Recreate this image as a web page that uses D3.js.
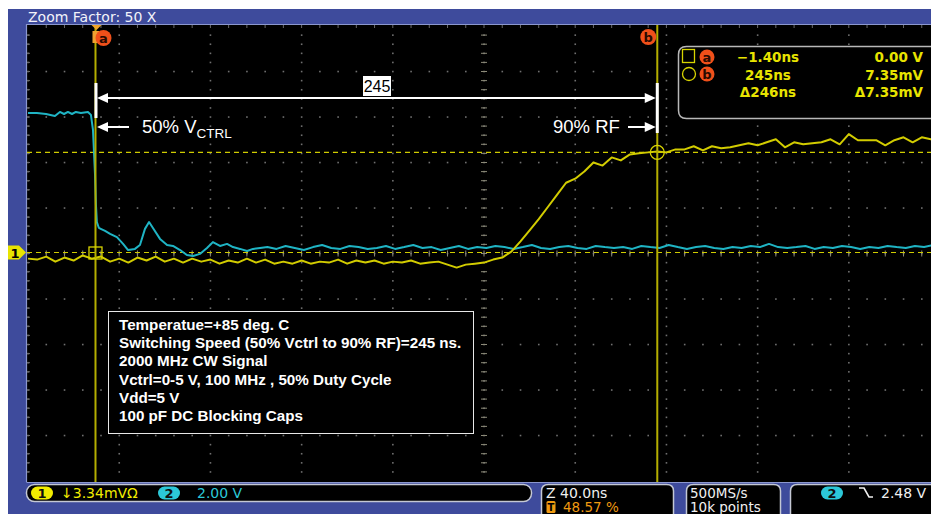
<!DOCTYPE html>
<html>
<head>
<meta charset="utf-8">
<script src="https://cdn.jsdelivr.net/npm/d3@7"></script>
<style>
  html, body { margin: 0; padding: 0; background: #ffffff; overflow: hidden; }
  svg { display: block; }
</style>
</head>
<body>
<svg id="scope" width="931" height="514"></svg>
<script>
// ---------------- acquisition settings ----------------
const headerText = "Zoom Factor: 50 X";
const timePerDiv = 40;        // ns / div
const timeStart = -31;        // ns at the left graticule edge
const ch1PerDiv = 3.34;       // mV / div
const ch2PerDiv = 2.00;       // V / div

// ---------------- cursors ----------------
const cursorNames = ["a", "b"];
const cursorTimes = [-1.40, 245];     // ns
const cursorLevels = [0.00, 7.35];    // mV on ch1
const readTimes = ["\u22121.40ns", "245ns", "\u0394246ns"];
const readLevels = ["0.00 V", "7.35mV", "\u03947.35mV"];

// ---------------- ch1 : detected RF (mV), sampled every 4 ns from timeStart ----------------
const ch1Step = 4;
const ch1mV = [
  -0.45, -0.52, -0.30, -0.67, -0.37, -0.59, -0.22, -0.45, -0.30, -0.67,
  -0.45, -0.74, -0.37, -0.59, -0.30, -0.67, -0.45, -0.74, -0.45, -0.67,
  -0.52, -0.82, -0.59, -0.74, -0.45, -0.74, -0.52, -0.82, -0.67, -0.82,
  -0.59, -0.82, -0.67, -0.74, -0.52, -0.82, -0.59, -0.74, -0.59, -0.82,
  -0.67, -0.74, -0.59, -0.82, -0.74, -0.67, -0.89, -1.11, -0.89, -0.82,
  -0.74, -0.52, -0.37, 0.07, 0.82, 1.63, 2.45, 3.34, 4.23, 5.12,
  5.42, 5.94, 6.61, 6.38, 6.98, 6.76, 7.20, 7.28, 7.35, 7.42,
  7.35, 7.57, 7.57, 7.80, 7.50, 7.80, 7.65, 7.72, 7.87, 8.02,
  7.87, 8.09, 8.31, 7.72, 8.09, 7.94, 8.02, 8.09, 8.31, 7.94,
  8.69, 8.24, 8.24, 8.24, 7.87, 8.24, 8.46, 8.09, 8.46, 8.31,
  8.31
];

// ---------------- ch2 : control voltage (V) ----------------
const ch2Times = [
  -31, -27.1, -23.1, -19.2, -17.0, -15.2, -13.5, -11.7, -10.0, -7.8,
  -4.7, -3.4, -2.5, -2.1, -1.6, -1.2, -0.8, 0.1, 0.9, 2.8,
  5.0, 8.0, 10.7, 12.9, 15.9, 18.1, 20.3, 22.1, 23.8, 26.9,
  30.0, 32.6, 35.7, 38.7, 41.4, 44.4, 47.5, 50.1, 53.2, 56.3,
  58.9, 62.0, 65.1, 67.7, 70.8,
  74, 78, 82, 86, 90, 94, 98, 102, 106, 110,
  114, 118, 122, 126, 130, 134, 138, 142, 146, 150,
  154, 158, 162, 166, 170, 174, 178, 182, 186, 190,
  194, 198, 202, 206, 210, 214, 218, 222, 226, 230,
  234, 238, 242, 246, 250, 254, 258, 262, 266, 270,
  274, 278, 282, 286, 290, 294, 298, 302, 306, 310,
  314, 318, 322, 326, 330, 334, 338, 342, 346, 350,
  354, 358, 362, 366, 370
];
const ch2Volts = [
  5.93, 5.93, 5.89, 5.80, 5.98, 5.89, 5.98, 5.89, 5.98, 5.93,
  5.98, 5.85, 5.19, 4.31, 3.21, 1.89, 1.14, 0.88, 0.84, 0.75,
  0.62, 0.48, 0.18, -0.09, -0.04, 0.13, 0.84, 1.14, 0.88, 0.40,
  0.13, 0.09, -0.09, -0.31, -0.35, -0.26, 0.00, 0.26, 0.09, 0.18,
  0.04, -0.04, -0.13, -0.04, 0.00,
  0.04, -0.04, 0.09, 0.00, -0.09, 0.04, 0.13, 0.00, -0.04, 0.09,
  0.04, -0.04, 0.00, 0.09, -0.04, 0.04, 0.13, 0.00, 0.04, -0.09,
  0.00, 0.09, -0.04, 0.04, 0.00, 0.09, 0.04, -0.04, 0.04, 0.13,
  0.00, -0.04, 0.04, 0.09, 0.00, -0.04, 0.09, 0.04, 0.00, 0.04,
  -0.04, 0.09, 0.04, 0.00, 0.13, 0.04, -0.04, 0.04, 0.09, 0.00,
  -0.04, 0.04, 0.00, 0.09, 0.04, 0.18, 0.04, 0.00, 0.04, 0.09,
  -0.04, 0.04, 0.00, 0.09, 0.04, -0.04, 0.04, 0.00, 0.09, 0.04,
  0.00, 0.09, 0.04, 0.13, 0.04
];

// ---------------- notes ----------------
const infoLines = [
  "Temperatue=+85 deg. C",
  "Switching Speed (50% Vctrl to 90% RF)=245 ns.",
  "2000 MHz CW Signal",
  "Vctrl=0-5 V, 100 MHz , 50% Duty Cycle",
  "Vdd=5 V",
  "100 pF DC Blocking Caps"
];
const spanLabel = "245";

// ---------------- status bar ----------------
const ch1Label = "\u21933.34mV\u03A9";
const ch2Label = "2.00 V";
const zoomLabel = "Z 40.0ns";
const trigPosLabel = "48.57 %";
const rateLabel = "500MS/s";
const pointsLabel = "10k points";
const trigLevelLabel = "2.48 V";

// ======================================================
const W = 931, H = 514;
const svg = d3.select("#scope");
const SCOPE_FONT = "'DejaVu Sans', Verdana, sans-serif";
const NOTE_FONT = "'Liberation Sans', Arial, sans-serif";

const BLUE = "#3e4b9c";
const YEL = "#d2cc00";
const CYAN = "#1fb4c4";

// screen area
const plot = { left: 27, right: W, top: 25, bottom: 482 };

// graticule: 10 x 10 divisions
const gx = d3.scaleLinear().domain([0, 10]).range([28, 940]);
const gy = d3.scaleLinear().domain([0, 10]).range([26, 481]);

// data scales
const x = d3.scaleLinear().domain([timeStart, timeStart + 10 * timePerDiv]).range([28, 940]);
const y1 = d3.scaleLinear().domain([0, ch1PerDiv]).range([252.5, 252.5 - 45.5]);
const y2 = d3.scaleLinear().domain([0, ch2PerDiv]).range([248, 248 - 45.5]);

// frame
svg.append("rect").attr("width", W).attr("height", H).attr("fill", "#ffffff");
svg.append("rect").attr("x", 8).attr("y", 9).attr("width", W - 8).attr("height", H - 9).attr("fill", BLUE);

svg.append("text").attr("x", 28).attr("y", 22)
  .attr("font-family", SCOPE_FONT).attr("font-size", 14).attr("fill", "#f2f3fa")
  .text(headerText);

svg.append("rect")
  .attr("x", plot.left).attr("y", plot.top)
  .attr("width", plot.right - plot.left).attr("height", plot.bottom - plot.top)
  .attr("fill", "#000000");
svg.append("path")
  .attr("d", `M${plot.left - 0.5},${plot.bottom}V${plot.top - 0.5}H${W}M${plot.left - 0.5},${plot.bottom + 0.5}H${W}`)
  .attr("stroke", "#8b97cf").attr("stroke-width", 1.2).attr("fill", "none");

// graticule dots
const grid = svg.append("g");
const dots = [];
for (let i = 0; i <= 10; i++) {
  for (let j = 1; j < 50; j++) dots.push([gx(i), gy(j / 5)]);
}
for (let j = 1; j < 10; j++) {
  for (let i = 1; i < 50; i++) if (i % 5 !== 0) dots.push([gx(i / 5), gy(j)]);
}
grid.selectAll("rect.dot").data(dots).join("rect").attr("class", "dot")
  .attr("x", d => d[0] - 0.75).attr("y", d => d[1] - 0.75)
  .attr("width", 1.6).attr("height", 1.6).attr("fill", "#707070");

// center axes with ticks
const cx = gx(5), cy = gy(5);
const vt = d3.range(1, 50).map(j => gy(j / 5));
grid.selectAll("line.vt").data(vt).join("line").attr("class", "vt")
  .attr("x1", cx - 3).attr("x2", cx + 3).attr("y1", d => d).attr("y2", d => d)
  .attr("stroke", "#8c8a78").attr("stroke-width", 1);
const ht = d3.range(1, 50).map(i => gx(i / 5));
grid.selectAll("line.ht").data(ht).join("line").attr("class", "ht")
  .attr("x1", d => d).attr("x2", d => d).attr("y1", cy - 3).attr("y2", cy + 3)
  .attr("stroke", "#8c8a78").attr("stroke-width", 1);
// edge ticks
grid.selectAll("line.et").data(ht).join("line").attr("class", "et")
  .attr("x1", d => d).attr("x2", d => d).attr("y1", plot.top).attr("y2", plot.top + 3)
  .attr("stroke", "#6a6a6a");
grid.selectAll("line.el").data(vt).join("line").attr("class", "el")
  .attr("x1", plot.left).attr("x2", plot.left + 3).attr("y1", d => d).attr("y2", d => d)
  .attr("stroke", "#6a6a6a");

// clip for waveforms
svg.append("clipPath").attr("id", "screen").append("rect")
  .attr("x", plot.left).attr("y", plot.top)
  .attr("width", plot.right - plot.left).attr("height", plot.bottom - plot.top);

// horizontal (level) cursors
svg.append("g").selectAll("line").data(cursorLevels).join("line")
  .attr("x1", plot.left).attr("x2", plot.right)
  .attr("y1", d => y1(d)).attr("y2", d => y1(d))
  .attr("stroke", "#cfcc00").attr("stroke-width", 1.2).attr("stroke-dasharray", "5,4");

// waveforms
const wave = svg.append("g").attr("clip-path", "url(#screen)");
const ch2Pts = d3.zip(ch2Times, ch2Volts);
wave.append("path").datum(ch2Pts)
  .attr("d", d3.line().x(d => x(d[0])).y(d => y2(d[1])))
  .attr("fill", "none").attr("stroke", CYAN).attr("stroke-width", 2).attr("stroke-linejoin", "round");
const ch1Pts = ch1mV.map((v, i) => [timeStart + i * ch1Step, v]);
wave.append("path").datum(ch1Pts)
  .attr("d", d3.line().x(d => x(d[0])).y(d => y1(d[1])))
  .attr("fill", "none").attr("stroke", YEL).attr("stroke-width", 2).attr("stroke-linejoin", "round");

// vertical (time) cursors
svg.append("g").selectAll("line").data(cursorTimes).join("line")
  .attr("x1", d => x(d)).attr("x2", d => x(d))
  .attr("y1", plot.top).attr("y2", plot.bottom)
  .attr("stroke", "#b4ae00").attr("stroke-width", 2);

// cursor intersection markers
const xa = x(cursorTimes[0]), xb = x(cursorTimes[1]);
const ya = y1(cursorLevels[0]), yb = y1(cursorLevels[1]);
svg.append("rect").attr("x", xa - 6.5).attr("y", ya - 5.5).attr("width", 13).attr("height", 12)
  .attr("fill", "none").attr("stroke", "#d8d400").attr("stroke-width", 1.3);
svg.append("circle").attr("cx", xb).attr("cy", yb).attr("r", 7)
  .attr("fill", "none").attr("stroke", "#d8d400").attr("stroke-width", 1.3);

// cursor flags at top
svg.append("path").attr("d", `M${xa - 4},${plot.top}H${xa + 6}L${xa + 1},${plot.top + 5}Z`).attr("fill", "#f0a428");
svg.append("rect").attr("x", xa - 3).attr("y", 31).attr("width", 7).attr("height", 12).attr("fill", "#f0a030");
function badge(g, cx0, cy0, r, letter) {
  g.append("circle").attr("cx", cx0).attr("cy", cy0).attr("r", r).attr("fill", "#f0501a");
  g.append("text").attr("x", cx0).attr("y", cy0 + 4.5).attr("text-anchor", "middle")
    .attr("font-family", SCOPE_FONT).attr("font-weight", "bold").attr("font-size", 13)
    .attr("fill", "#2a0a00").text(letter);
}
badge(svg, xa + 8, 38, 8, cursorNames[0]);
badge(svg, xb - 9, 37, 8, cursorNames[1]);

// ch1 ground marker
const m1 = svg.append("g");
m1.append("path").attr("d", `M8,${ya - 7}H19L26,${ya}L19,${ya + 7}H8Z`).attr("fill", "#e8e400");
m1.append("text").attr("x", 15).attr("y", ya + 5).attr("text-anchor", "middle")
  .attr("font-family", SCOPE_FONT).attr("font-weight", "bold").attr("font-size", 13)
  .attr("fill", "#000").text("1");

// ---- annotations (white) ----
const ann = svg.append("g").attr("fill", "#ffffff");
const dimY = 98;
function arrowHead(tipX, y, dir) {
  ann.append("path").attr("d", `M${tipX},${y}L${tipX + dir * 11},${y - 5}L${tipX + dir * 11},${y + 5}Z`);
}
ann.append("rect").attr("x", xa - 1).attr("y", 83).attr("width", 3).attr("height", 35);
ann.append("rect").attr("x", xb - 1.5).attr("y", 83).attr("width", 3).attr("height", 50);
ann.append("line").attr("x1", xa + 8).attr("x2", xb - 8).attr("y1", dimY).attr("y2", dimY)
  .attr("stroke", "#ffffff").attr("stroke-width", 2);
arrowHead(xa + 1.5, dimY, 1);
arrowHead(xb - 1.5, dimY, -1);

ann.append("rect").attr("x", 363).attr("y", 76).attr("width", 28).attr("height", 20).attr("fill", "#ffffff");
ann.append("text").attr("x", 377).attr("y", 92).attr("text-anchor", "middle")
  .attr("font-family", NOTE_FONT).attr("font-size", 16).attr("fill", "#000").text(spanLabel);

const noteY = 127;
ann.append("line").attr("x1", xa + 8).attr("x2", 129).attr("y1", noteY).attr("y2", noteY)
  .attr("stroke", "#ffffff").attr("stroke-width", 2);
arrowHead(xa + 1.5, noteY, 1);
const t50 = ann.append("text").attr("x", 142).attr("y", 133)
  .attr("font-family", NOTE_FONT).attr("font-size", 18.5).attr("fill", "#ffffff");
t50.append("tspan").text("50% V");
t50.append("tspan").attr("font-size", 13.5).attr("dy", 5).text("CTRL");

ann.append("text").attr("x", 553).attr("y", 133)
  .attr("font-family", NOTE_FONT).attr("font-size", 18.5).attr("fill", "#ffffff").text("90% RF");
ann.append("line").attr("x1", 628).attr("x2", xb - 8).attr("y1", noteY).attr("y2", noteY)
  .attr("stroke", "#ffffff").attr("stroke-width", 2);
arrowHead(xb - 1.5, noteY, -1);

// info box
const info = svg.append("g");
info.append("rect").attr("x", 108.5).attr("y", 311.5).attr("width", 365).attr("height", 122)
  .attr("fill", "#000").attr("stroke", "#e8e8e8").attr("stroke-width", 1);
info.selectAll("text").data(infoLines).join("text")
  .attr("x", 119).attr("y", (d, i) => 330 + i * 18.2)
  .attr("font-family", NOTE_FONT).attr("font-weight", "bold").attr("font-size", 15.2)
  .attr("fill", "#ffffff").text(d => d);

// cursor readout
const ro = svg.append("g");
ro.append("path")
  .attr("d", `M${W + 10},46.5H686.5Q678.5,46.5 678.5,54.5V110.5Q678.5,118.5 686.5,118.5H${W + 10}`)
  .attr("fill", "#000").attr("stroke", "#b8b8b8").attr("stroke-width", 1.5);
ro.append("rect").attr("x", 682.5).attr("y", 49.5).attr("width", 12).attr("height", 13)
  .attr("fill", "none").attr("stroke", "#d8d400").attr("stroke-width", 1.3);
ro.append("circle").attr("cx", 689).attr("cy", 74).attr("r", 6.5)
  .attr("fill", "none").attr("stroke", "#d8d400").attr("stroke-width", 1.3);
badge(ro, 707, 57, 7.5, cursorNames[0]);
badge(ro, 707, 74, 7.5, cursorNames[1]);
ro.selectAll("text.rt").data(readTimes).join("text").attr("class", "rt")
  .attr("x", 768).attr("y", (d, i) => 62 + i * 17.5).attr("text-anchor", "middle")
  .attr("font-family", SCOPE_FONT).attr("font-weight", "bold").attr("font-size", 13.5)
  .attr("fill", "#e8e400").text(d => d);
ro.selectAll("text.rl").data(readLevels).join("text").attr("class", "rl")
  .attr("x", 923).attr("y", (d, i) => 62 + i * 17.5).attr("text-anchor", "end")
  .attr("font-family", SCOPE_FONT).attr("font-weight", "bold").attr("font-size", 13.5)
  .attr("fill", "#e8e400").text(d => d);

// ---- status bar ----
const sb = svg.append("g").attr("font-family", SCOPE_FONT).attr("font-size", 14);
sb.append("rect").attr("x", 26.5).attr("y", 484.5).attr("width", 505).attr("height", 17).attr("rx", 8)
  .attr("fill", "#000").attr("stroke", "#c4c8d4").attr("stroke-width", 1.5);
function pill(cx0, cy0, fill, label) {
  sb.append("rect").attr("x", cx0 - 11).attr("y", cy0 - 6.5).attr("width", 22).attr("height", 13).attr("rx", 6.5)
    .attr("fill", fill);
  sb.append("text").attr("x", cx0).attr("y", cy0 + 5).attr("text-anchor", "middle")
    .attr("font-weight", "bold").attr("font-size", 13).attr("fill", "#101010").text(label);
}
pill(42, 493, "#f2ec00", "1");
sb.append("text").attr("x", 61).attr("y", 498).attr("fill", "#f2ec00").text(ch1Label);
pill(169, 493, "#2cc8d8", "2");
sb.append("text").attr("x", 197).attr("y", 498).attr("fill", "#2cc8d8").text(ch2Label);

function panel(x0, x1) {
  sb.append("path")
    .attr("d", `M${x0},${H + 5}V${491}Q${x0},${484.5} ${x0 + 7},${484.5}H${x1 - 7}Q${x1},${484.5} ${x1},${491}V${H + 5}`)
    .attr("fill", "#000").attr("stroke", "#c4c8d4").attr("stroke-width", 1.5);
}
panel(541.5, 673.5);
panel(686.5, 780.5);
panel(790.5, W + 20);

sb.append("text").attr("x", 546).attr("y", 498).attr("fill", "#f0f0f0").text(zoomLabel);
sb.append("rect").attr("x", 546.5).attr("y", 501).attr("width", 9).attr("height", 12).attr("rx", 1.5).attr("fill", "#f09a10");
sb.append("text").attr("x", 551).attr("y", 511).attr("text-anchor", "middle").attr("font-weight", "bold")
  .attr("font-size", 10).attr("fill", "#000").text("T");
sb.append("text").attr("x", 563).attr("y", 512).attr("font-size", 13.5).attr("fill", "#f09a10").text(trigPosLabel);
sb.append("text").attr("x", 690).attr("y", 497.5).attr("font-size", 13.5).attr("fill", "#f0f0f0").text(rateLabel);
sb.append("text").attr("x", 690).attr("y", 512).attr("font-size", 13.5).attr("fill", "#f0f0f0").text(pointsLabel);
pill(832, 493, "#2cc8d8", "2");
sb.append("path").attr("d", "M859,488H864L869,497H873").attr("fill", "none")
  .attr("stroke", "#f0f0f0").attr("stroke-width", 1.6);
sb.append("text").attr("x", 881).attr("y", 498).attr("fill", "#f0f0f0").text(trigLevelLabel);
</script>
</body>
</html>
